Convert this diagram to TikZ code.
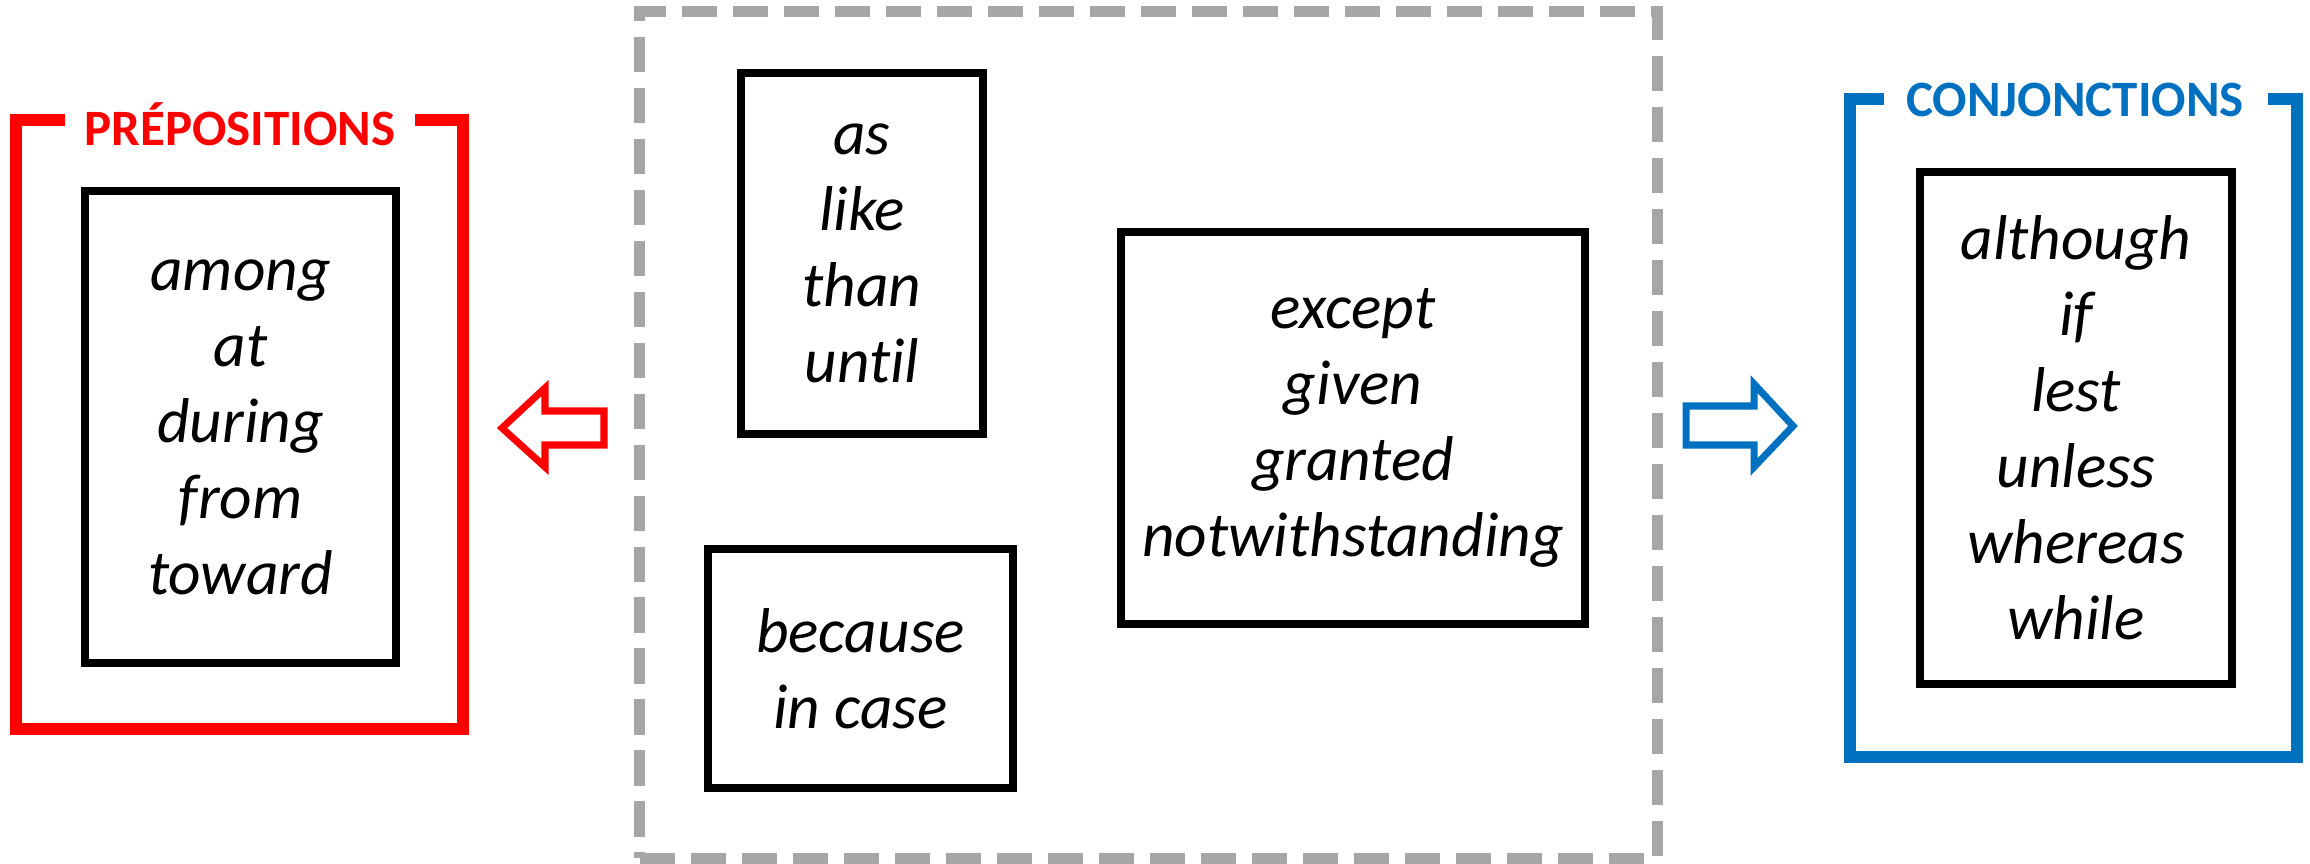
\documentclass[tikz,border=0pt]{standalone}
\usepackage{fontspec}
\setmainfont{Carlito}[Ligatures = NoCommon]
\usetikzlibrary{positioning}
\definecolor{prepred}{HTML}{FF0000}
\definecolor{conjblue}{HTML}{0070C0}
\definecolor{framegray}{HTML}{A6A6A6}
\tikzset{
    every picture/.style = {
        line join = miter,
        x = 0.01cm,
        y = -0.01cm
    },
    wordbox/.style = {
        draw = black,
        line width = 2.2pt,
        inner sep = 0pt,
        align = center,
        font = \fontsize{18}{21.6}\selectfont\itshape
    },
    heading/.style = {
        inner sep = 0pt,
        font = \fontsize{14.5}{17}\selectfont\bfseries
    },
    bracket/.style = {line width = 3.4pt},
    blockarrow/.style = {line width = 2pt}
}

\begin{document}
\begin{tikzpicture}
    \useasboundingbox (0, 0) rectangle (2310, 864);
    % middle frame
    \node[draw = framegray, line width = 3.1pt, dash pattern = on 10pt off 4.5pt,
          minimum width = 10.17cm, minimum height = 8.46cm] (both) at (1148.5, 435) {};
    \node[wordbox, minimum width = 2.42cm, minimum height = 3.61cm] (aslike) at (862, 253.5) {as\\like\\than\\until};
    \node[wordbox, minimum width = 3.05cm, minimum height = 2.39cm] (because) at (860.5, 668.5) {because\\in case};
    \node[wordbox, minimum width = 4.64cm, minimum height = 3.92cm] (except) at (1353, 428) {except\\given\\granted\\notwithstanding};
    % prepositions
    \node[heading, text = prepred] (prephead) at (240, 124) {PRÉPOSITIONS};
    \node[wordbox, minimum width = 3.11cm, minimum height = 4.72cm] (prep) at (240.5, 427) {among\\at\\during\\from\\toward};
    \draw[bracket, prepred] (65, 120) -- (16, 120) -- (16, 729) -- (463, 729) -- (463, 120) -- (415, 120);
    \draw[blockarrow, prepred] (502, 428) -- (545, 388) -- (545, 411) -- (604, 411)
        -- (604, 445) -- (545, 445) -- (545, 467) -- cycle;
    % conjunctions
    \node[heading, text = conjblue] (conjhead) at (2075, 100) {CONJONCTIONS};
    \node[wordbox, minimum width = 3.12cm, minimum height = 5.12cm] (conj) at (2076, 428) {although\\if\\lest\\unless\\whereas\\while};
    \draw[bracket, conjblue] (1884, 99) -- (1850, 99) -- (1850, 757) -- (2297, 757) -- (2297, 99) -- (2268, 99);
    \draw[blockarrow, conjblue] (1686, 406) -- (1754, 406) -- (1754, 384) -- (1793, 426)
        -- (1754, 467) -- (1754, 445) -- (1686, 445) -- cycle;
\end{tikzpicture}
\end{document}
